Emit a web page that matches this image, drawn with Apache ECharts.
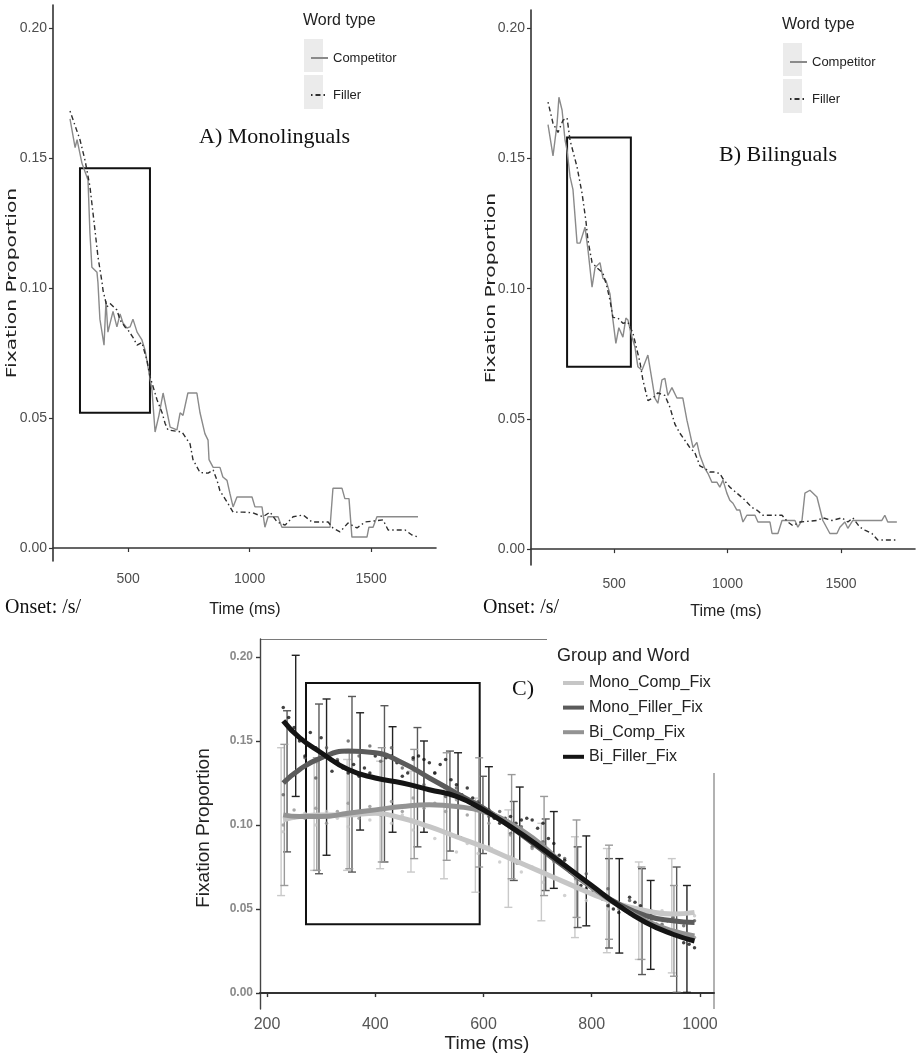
<!DOCTYPE html>
<html>
<head>
<meta charset="utf-8">
<script src="https://cdn.jsdelivr.net/npm/echarts@6.0.0/dist/echarts.min.js"></script>
<style>
html,body{margin:0;padding:0;background:#fff;}
#chart{width:916px;height:1058px;}
</style>
</head>
<body>
<div id="chart"></div>
<script>
// ---------------- DATA ----------------
const yTicksAB = [0, 0.05, 0.10, 0.15, 0.20];
const xTicksAB = [500, 1000, 1500];
const yTicksC = [0, 0.05, 0.10, 0.15, 0.20];
const xTicksC = [200, 400, 600, 800, 1000];
const wordTypes = ['Competitor', 'Filler'];
const groupNames = ['Mono_Comp_Fix', 'Mono_Filler_Fix', 'Bi_Comp_Fix', 'Bi_Filler_Fix'];

// Panel A (Monolinguals): [time ms, fixation proportion]
const compA = [[261,0.165],[282,0.154],[290,0.157],[310,0.148],[335,0.1415],[343,0.121],[351,0.108],[372,0.106],[376,0.102],[384,0.088],[401,0.078],[409,0.095],[417,0.083],[438,0.091],[454,0.085],[467,0.090],[479,0.0865],[495,0.0846],[508,0.085],[520,0.088],[537,0.083],[557,0.080],[570,0.076],[582,0.0696],[598,0.061],[611,0.0446],[627,0.051],[644,0.0596],[652,0.0596],[673,0.0465],[701,0.0454],[714,0.052],[726,0.051],[746,0.0596],[783,0.0596],[796,0.052],[816,0.044],[829,0.0415],[833,0.034],[850,0.031],[878,0.031],[890,0.0273],[907,0.026],[919,0.021],[932,0.0158],[948,0.0196],[1010,0.0196],[1022,0.0158],[1051,0.0158],[1063,0.008],[1076,0.012],[1117,0.012],[1133,0.008],[1331,0.008],[1343,0.023],[1380,0.023],[1392,0.019],[1409,0.019],[1421,0.0042],[1483,0.0042],[1491,0.008],[1508,0.008],[1524,0.012],[1693,0.012]];
const fillA = [[261,0.168],[302,0.157],[323,0.149],[343,0.139],[364,0.122],[376,0.112],[393,0.102],[397,0.099],[413,0.0927],[426,0.094],[454,0.0915],[467,0.0877],[487,0.085],[500,0.0838],[520,0.081],[537,0.078],[557,0.079],[578,0.072],[590,0.066],[619,0.057],[640,0.052],[652,0.048],[664,0.0454],[722,0.0446],[755,0.040],[767,0.034],[796,0.029],[829,0.0288],[850,0.030],[866,0.026],[878,0.022],[907,0.0177],[932,0.0138],[973,0.0138],[1014,0.0135],[1055,0.012],[1084,0.0138],[1113,0.010],[1146,0.0088],[1179,0.012],[1220,0.0127],[1257,0.010],[1323,0.010],[1343,0.0077],[1372,0.0062],[1405,0.0096],[1442,0.0077],[1475,0.010],[1549,0.0108],[1570,0.0069],[1640,0.0069],[1668,0.005],[1693,0.0042]];
const boxA = [302, 0.052, 590, 0.146];

// Panel B (Bilinguals)
const compB = [[209,0.163],[231,0.151],[249,0.1635],[257,0.1735],[271,0.1685],[284,0.157],[293,0.153],[306,0.143],[319,0.138],[337,0.1175],[350,0.1175],[372,0.1236],[385,0.115],[403,0.1006],[416,0.108],[438,0.110],[451,0.104],[465,0.103],[482,0.098],[495,0.088],[508,0.079],[521,0.085],[539,0.0814],[552,0.0887],[561,0.088],[579,0.0814],[592,0.0776],[605,0.070],[623,0.0687],[649,0.0745],[667,0.065],[680,0.058],[693,0.056],[711,0.065],[724,0.0656],[737,0.059],[755,0.062],[777,0.058],[803,0.058],[821,0.0495],[834,0.0445],[848,0.039],[865,0.041],[878,0.036],[900,0.031],[914,0.029],[931,0.0257],[953,0.0257],[966,0.0238],[980,0.0265],[997,0.0215],[1010,0.0188],[1024,0.0176],[1041,0.015],[1054,0.015],[1068,0.0104],[1085,0.013],[1121,0.013],[1134,0.0104],[1187,0.0104],[1196,0.006],[1222,0.006],[1240,0.011],[1297,0.011],[1310,0.0084],[1328,0.011],[1341,0.0215],[1363,0.0226],[1394,0.020],[1420,0.011],[1451,0.006],[1482,0.006],[1495,0.0084],[1517,0.0104],[1530,0.008],[1552,0.011],[1680,0.011],[1693,0.013],[1706,0.0104],[1746,0.0104]];
const fillB = [[209,0.1716],[231,0.1635],[253,0.160],[275,0.1647],[293,0.1655],[306,0.157],[337,0.1467],[359,0.1366],[376,0.126],[385,0.1186],[403,0.110],[425,0.108],[451,0.106],[469,0.1006],[482,0.0956],[495,0.089],[517,0.0887],[539,0.0867],[561,0.0871],[583,0.083],[601,0.0764],[614,0.0718],[627,0.065],[649,0.057],[671,0.058],[693,0.060],[724,0.059],[746,0.0545],[768,0.048],[790,0.0445],[812,0.0418],[834,0.039],[856,0.037],[878,0.032],[900,0.031],[922,0.0296],[944,0.0296],[966,0.029],[980,0.027],[1010,0.0238],[1041,0.0215],[1077,0.0188],[1107,0.016],[1129,0.015],[1156,0.013],[1240,0.013],[1266,0.0104],[1288,0.009],[1319,0.0104],[1394,0.011],[1420,0.012],[1460,0.011],[1504,0.012],[1530,0.0104],[1552,0.012],[1583,0.0084],[1605,0.0073],[1636,0.006],[1662,0.0035],[1746,0.0035]];
const boxB = [293, 0.070, 574, 0.158];

// Panel C: smoothed curves
const curveTimes = [230,260,300,350,400,450,500,550,600,650,700,750,800,850,900,950,990];
const monoCompCurve   = [0.103,0.105,0.106,0.106,0.107,0.104,0.099,0.093,0.087,0.080,0.073,0.066,0.059,0.053,0.049,0.047,0.048];
const monoFillerCurve = [0.125,0.133,0.140,0.144,0.143,0.137,0.128,0.119,0.110,0.099,0.087,0.075,0.063,0.053,0.046,0.043,0.042];
const biCompCurve     = [0.106,0.105,0.105,0.107,0.109,0.111,0.112,0.111,0.108,0.101,0.090,0.076,0.063,0.052,0.043,0.037,0.034];
const biFillerCurve   = [0.162,0.152,0.143,0.133,0.128,0.125,0.121,0.117,0.109,0.099,0.088,0.076,0.064,0.052,0.042,0.035,0.031];

// Panel C: observed points
const monoCompDots = [[230,0.096],[250,0.104],[270,0.107],[290,0.100],[310,0.108],[330,0.104],[350,0.099],[370,0.108],[390,0.103],[410,0.110],[430,0.101],[450,0.106],[470,0.097],[490,0.100],[510,0.092],[530,0.095],[550,0.084],[570,0.089],[590,0.083],[610,0.087],[630,0.078],[650,0.081],[670,0.072],[690,0.075],[710,0.066],[730,0.068],[750,0.058],[770,0.062],[790,0.055],[810,0.058],[830,0.050],[850,0.052],[870,0.047],[890,0.051],[910,0.045],[930,0.049],[950,0.044],[970,0.047],[990,0.046]];
const monoFillerDots = [[230,0.118],[250,0.131],[270,0.140],[290,0.128],[310,0.146],[330,0.139],[350,0.150],[370,0.141],[390,0.147],[410,0.138],[430,0.146],[450,0.134],[470,0.139],[490,0.124],[510,0.131],[530,0.117],[550,0.122],[570,0.110],[590,0.114],[610,0.105],[630,0.108],[650,0.095],[670,0.099],[690,0.087],[710,0.090],[730,0.079],[750,0.080],[770,0.069],[790,0.071],[810,0.060],[830,0.062],[850,0.052],[870,0.055],[890,0.046],[910,0.049],[930,0.041],[950,0.045],[970,0.040],[990,0.043]];
const biCompDots = [[230,0.100],[250,0.109],[270,0.104],[290,0.110],[310,0.101],[330,0.108],[350,0.113],[370,0.104],[390,0.111],[410,0.106],[430,0.114],[450,0.108],[470,0.116],[490,0.110],[510,0.113],[530,0.108],[550,0.115],[570,0.106],[590,0.110],[610,0.101],[630,0.104],[650,0.094],[670,0.097],[690,0.086],[710,0.089],[730,0.078],[750,0.076],[770,0.068],[790,0.065],[810,0.059],[830,0.057],[850,0.050],[870,0.051],[890,0.044],[910,0.043],[930,0.039],[950,0.037],[970,0.035],[990,0.033]];
const biFillerDots = [[230,0.170],[240,0.164],[250,0.158],[260,0.150],[270,0.141],[280,0.155],[290,0.146],[300,0.152],[310,0.141],[320,0.132],[330,0.138],[340,0.134],[350,0.131],[360,0.136],[370,0.129],[380,0.134],[390,0.131],[400,0.141],[410,0.142],[420,0.140],[430,0.141],[440,0.137],[450,0.129],[460,0.131],[470,0.140],[480,0.141],[490,0.139],[500,0.137],[510,0.131],[520,0.136],[530,0.139],[540,0.127],[550,0.124],[560,0.118],[570,0.122],[580,0.116],[590,0.113],[600,0.108],[610,0.109],[620,0.104],[630,0.101],[640,0.104],[650,0.105],[660,0.101],[670,0.103],[680,0.104],[690,0.103],[700,0.098],[710,0.101],[720,0.092],[730,0.089],[740,0.082],[750,0.079],[760,0.072],[770,0.070],[780,0.064],[790,0.062],[800,0.060],[810,0.058],[820,0.056],[830,0.052],[840,0.050],[850,0.048],[860,0.052],[870,0.057],[880,0.054],[890,0.052],[900,0.049],[910,0.046],[920,0.041],[930,0.038],[940,0.043],[950,0.036],[960,0.034],[970,0.030],[980,0.029],[990,0.027]];

// Panel C: error bars [time, low, high]
const monoCompErr = [[226,0.058,0.146],[287,0.073,0.137],[348,0.073,0.139],[409,0.074,0.138],[466,0.072,0.132],[527,0.068,0.123],[585,0.060,0.116],[646,0.051,0.109],[707,0.043,0.101],[769,0.033,0.093],[828,0.024,0.086],[887,0.020,0.078],[948,0.012,0.080]];
const biCompErr = [[232,0.064,0.148],[292,0.073,0.140],[352,0.074,0.143],[412,0.078,0.146],[472,0.080,0.145],[532,0.079,0.143],[592,0.075,0.140],[652,0.068,0.130],[712,0.058,0.117],[772,0.045,0.103],[832,0.032,0.088],[892,0.020,0.075],[952,0.010,0.064]];
const monoFillerErr = [[237,0.084,0.168],[296,0.071,0.172],[357,0.072,0.1765],[417,0.078,0.171],[478,0.087,0.158],[538,0.0845,0.144],[599,0.083,0.129],[656,0.067,0.114],[715,0.061,0.1036],[774,0.039,0.087],[832,0.0268,0.080],[893,0.011,0.074],[957,0.0004,0.075]];
const biFillerErr = [[253,0.117,0.201],[310,0.082,0.175],[372,0.097,0.1668],[432,0.0957,0.1585],[490,0.0957,0.150],[553,0.0929,0.143],[610,0.086,0.1347],[667,0.077,0.1226],[730,0.0623,0.108],[790,0.040,0.0935],[851,0.0238,0.080],[909,0.0141,0.067],[976,0.0004,0.064]];
const boxC = [272, 0.041, 593, 0.1845];

// ---------------- STYLE ----------------
const NARROW = "'Liberation Sans Narrow', 'Liberation Sans', Arial, sans-serif";
const SANS = "'Liberation Sans', Arial, sans-serif";
const SERIF = "'Liberation Serif', 'Times New Roman', serif";
const groupColors = ['#c6c6c6', '#5b5b5b', '#939393', '#141414'];
const barColors = ['#c9c9c9', '#595959', '#9a9a9a', '#222222'];

function fmt2(v){ return Number(v).toFixed(2); }
function fmtInt(v){ return String(Math.round(v)); }

function abX(idx, min, max, margin){
  return {gridIndex: idx, type: 'value', min: min, max: max,
    axisLine: {show: true, lineStyle: {color: '#333', width: 1.6}},
    axisTick: {show: true, length: 4, customValues: xTicksAB, lineStyle: {color: '#333', width: 1.2}},
    axisLabel: {customValues: xTicksAB, margin: margin, color: '#4d4d4d', fontFamily: NARROW, fontSize: 14, formatter: fmtInt},
    splitLine: {show: false}};
}
function abY(idx, min, max){
  return {gridIndex: idx, type: 'value', min: min, max: max,
    axisLine: {show: true, lineStyle: {color: '#333', width: 1.6}},
    axisTick: {show: true, length: 4, customValues: yTicksAB, lineStyle: {color: '#333', width: 1.2}},
    axisLabel: {customValues: yTicksAB, margin: 6, color: '#4d4d4d', fontFamily: NARROW, fontSize: 14, formatter: fmt2},
    splitLine: {show: false}};
}

function boxArea(b){
  return {silent: true,
    itemStyle: {color: 'rgba(0,0,0,0)', borderColor: '#111', borderWidth: 2},
    data: [[{coord: [b[0], b[3]]}, {coord: [b[2], b[1]]}]]};
}

function errRender(color){
  return function(params, api){
    const t = api.value(0);
    const lo = api.coord([t, api.value(1)]);
    const hi = api.coord([t, api.value(2)]);
    const w = 4;
    const st = {stroke: color, lineWidth: 1.4};
    return {type: 'group', children: [
      {type: 'line', shape: {x1: lo[0], y1: lo[1], x2: hi[0], y2: hi[1]}, style: st},
      {type: 'line', shape: {x1: lo[0]-w, y1: lo[1], x2: lo[0]+w, y2: lo[1]}, style: st},
      {type: 'line', shape: {x1: hi[0]-w, y1: hi[1], x2: hi[0]+w, y2: hi[1]}, style: st}
    ]};
  };
}

const curves = [monoCompCurve, monoFillerCurve, biCompCurve, biFillerCurve];
const dots = [monoCompDots, monoFillerDots, biCompDots, biFillerDots];
const errs = [monoCompErr, monoFillerErr, biCompErr, biFillerErr];

const series = [];
// Panel A
series.push({name: wordTypes[0], type: 'line', xAxisIndex: 0, yAxisIndex: 0, data: compA, symbol: 'none',
  color: '#8a8a8a', lineStyle: {color: '#8a8a8a', width: 1.4}, z: 3, markArea: boxArea(boxA)});
series.push({name: wordTypes[1], type: 'line', xAxisIndex: 0, yAxisIndex: 0, data: fillA, symbol: 'none',
  color: '#2e2e2e', lineStyle: {color: '#2e2e2e', width: 1.4, type: [1.5, 3, 5, 3]}, z: 3});
// Panel B
series.push({name: wordTypes[0], type: 'line', xAxisIndex: 1, yAxisIndex: 1, data: compB, symbol: 'none',
  color: '#8a8a8a', lineStyle: {color: '#8a8a8a', width: 1.4}, z: 3, markArea: boxArea(boxB)});
series.push({name: wordTypes[1], type: 'line', xAxisIndex: 1, yAxisIndex: 1, data: fillB, symbol: 'none',
  color: '#2e2e2e', lineStyle: {color: '#2e2e2e', width: 1.4, type: [1.5, 3, 5, 3]}, z: 3});
// Panel C: error bars
for (let g = 0; g < 4; g++) {
  series.push({name: groupNames[g] + ' error', type: 'custom', xAxisIndex: 2, yAxisIndex: 2,
    data: errs[g], encode: {x: 0, y: [1, 2]}, renderItem: errRender(barColors[g]), z: 2 + (g === 3 ? 1 : 0), silent: true});
}
// Panel C: dots
for (let g = 0; g < 4; g++) {
  series.push({name: groupNames[g] + ' points', type: 'scatter', xAxisIndex: 2, yAxisIndex: 2,
    data: dots[g], symbolSize: 3.5, itemStyle: {color: groupColors[g]}, z: 4, silent: true});
}
// Panel C: curves
for (let g = 0; g < 4; g++) {
  series.push({name: groupNames[g], type: 'line', xAxisIndex: 2, yAxisIndex: 2,
    data: curveTimes.map((t, i) => [t, curves[g][i]]), smooth: true, symbol: 'none',
    color: groupColors[g], lineStyle: {color: groupColors[g], width: 5}, z: 5,
    markArea: g === 0 ? boxArea(boxC) : undefined});
}

const abLegendText = {fontFamily: NARROW, fontSize: 13, color: '#222', lineHeight: 14};
const option = {
  animation: false,
  backgroundColor: '#fff',
  grid: [
    {left: 53, top: 5, width: 383, height: 556},
    {left: 531, top: 10, width: 384, height: 555},
    {left: 260, top: 639, width: 454, height: 370}
  ],
  xAxis: [
    abX(0, 191, 1767, 11),
    abX(1, 134, 1826, 12),
    {gridIndex: 2, type: 'value', min: 187, max: 1026,
      axisLine: {show: true, lineStyle: {color: '#333', width: 2}},
      axisTick: {show: true, length: 4, customValues: xTicksC, lineStyle: {color: '#333', width: 1.4}},
      axisLabel: {customValues: xTicksC, margin: 8, color: '#555', fontFamily: SANS, fontSize: 16, formatter: fmtInt},
      splitLine: {show: false}}
  ],
  yAxis: [
    abY(0, -0.005, 0.2088),
    abY(1, -0.0061, 0.207),
    {gridIndex: 2, type: 'value', min: -0.0095, max: 0.2107,
      axisLine: {show: true, lineStyle: {color: '#444', width: 1.4}},
      axisTick: {show: true, length: 4, customValues: yTicksC, lineStyle: {color: '#333', width: 1.4}},
      axisLabel: {customValues: yTicksC, margin: 7, color: '#8a8a8a', fontWeight: 'bold', fontFamily: SANS, fontSize: 12, formatter: fmt2},
      splitLine: {show: false}}
  ],
  legend: [
    {data: wordTypes, orient: 'vertical', left: 305, top: 46, itemWidth: 17, itemHeight: 14, itemGap: 23,
      icon: 'inherit', itemStyle: {opacity: 0}, selectedMode: false, textStyle: abLegendText},
    {data: wordTypes, orient: 'vertical', left: 784, top: 50, itemWidth: 17, itemHeight: 14, itemGap: 23,
      icon: 'inherit', itemStyle: {opacity: 0}, selectedMode: false, textStyle: abLegendText},
    {data: groupNames, orient: 'vertical', left: 558, top: 670, itemWidth: 21, itemHeight: 4, itemGap: 8.6,
      icon: 'rect', selectedMode: false,
      textStyle: {fontFamily: SANS, fontSize: 16, color: '#222', lineHeight: 16}}
  ],
  graphic: [
    // legend key backgrounds (A, B)
    {type: 'rect', left: 304, top: 39, shape: {width: 19, height: 33}, style: {fill: '#ebebeb'}, z: -1},
    {type: 'rect', left: 304, top: 75, shape: {width: 19, height: 34}, style: {fill: '#ebebeb'}, z: -1},
    {type: 'rect', left: 783, top: 43, shape: {width: 19, height: 33}, style: {fill: '#ebebeb'}, z: -1},
    {type: 'rect', left: 783, top: 79, shape: {width: 19, height: 34}, style: {fill: '#ebebeb'}, z: -1},
    // legend titles
    {type: 'text', x: 303, y: 21, style: {text: 'Word type', fontFamily: NARROW, fontSize: 16, fill: '#222', textVerticalAlign: 'middle'}},
    {type: 'text', x: 782, y: 25, style: {text: 'Word type', fontFamily: NARROW, fontSize: 16, fill: '#222', textVerticalAlign: 'middle'}},
    {type: 'text', x: 557, y: 656, style: {text: 'Group and Word', fontFamily: SANS, fontSize: 18, fill: '#222', textVerticalAlign: 'middle'}},
    // panel titles
    {type: 'text', x: 199, y: 137, style: {text: 'A) Monolinguals', fontFamily: SERIF, fontSize: 22, fill: '#111', textVerticalAlign: 'middle'}},
    {type: 'text', x: 719, y: 155, style: {text: 'B) Bilinguals', fontFamily: SERIF, fontSize: 22, fill: '#111', textVerticalAlign: 'middle'}},
    {type: 'text', x: 512, y: 689, style: {text: 'C)', fontFamily: SERIF, fontSize: 22, fill: '#111', textVerticalAlign: 'middle'}},
    // onset labels
    {type: 'text', x: 5, y: 608, style: {text: 'Onset: /s/', fontFamily: SERIF, fontSize: 20, fill: '#111', textVerticalAlign: 'middle'}},
    {type: 'text', x: 483, y: 608, style: {text: 'Onset: /s/', fontFamily: SERIF, fontSize: 20, fill: '#111', textVerticalAlign: 'middle'}},
    // axis titles
    {type: 'text', x: 245, y: 610, style: {text: 'Time (ms)', fontFamily: NARROW, fontSize: 16, fill: '#222', textAlign: 'center', textVerticalAlign: 'middle'}},
    {type: 'text', x: 726, y: 612, style: {text: 'Time (ms)', fontFamily: NARROW, fontSize: 16, fill: '#222', textAlign: 'center', textVerticalAlign: 'middle'}},
    {type: 'text', x: 487, y: 1044, style: {text: 'Time (ms)', fontFamily: SANS, fontSize: 19, fill: '#222', textAlign: 'center', textVerticalAlign: 'middle'}},
    {type: 'text', x: 12, y: 283, rotation: Math.PI/2, scaleX: 1.45, style: {text: 'Fixation Proportion', fontFamily: "'DejaVu Sans', sans-serif", fontSize: 14, fill: '#222', textAlign: 'center', textVerticalAlign: 'middle'}},
    {type: 'text', x: 491, y: 288, rotation: Math.PI/2, scaleX: 1.45, style: {text: 'Fixation Proportion', fontFamily: "'DejaVu Sans', sans-serif", fontSize: 14, fill: '#222', textAlign: 'center', textVerticalAlign: 'middle'}},
    {type: 'text', x: 204, y: 828, rotation: Math.PI/2, style: {text: 'Fixation Proportion', fontFamily: SANS, fontSize: 19, fill: '#222', textAlign: 'center', textVerticalAlign: 'middle'}},
    // panel C frame fragments
    {type: 'line', shape: {x1: 260, y1: 639.5, x2: 547, y2: 639.5}, style: {stroke: '#7a7a7a', lineWidth: 1}},
    {type: 'line', shape: {x1: 714, y1: 773, x2: 714, y2: 1009}, style: {stroke: '#999', lineWidth: 1.5}}
  ],
  series: series
};

const chart = echarts.init(document.getElementById('chart'), null, {renderer: 'canvas', width: 916, height: 1058});
chart.setOption(option);
</script>
</body>
</html>
